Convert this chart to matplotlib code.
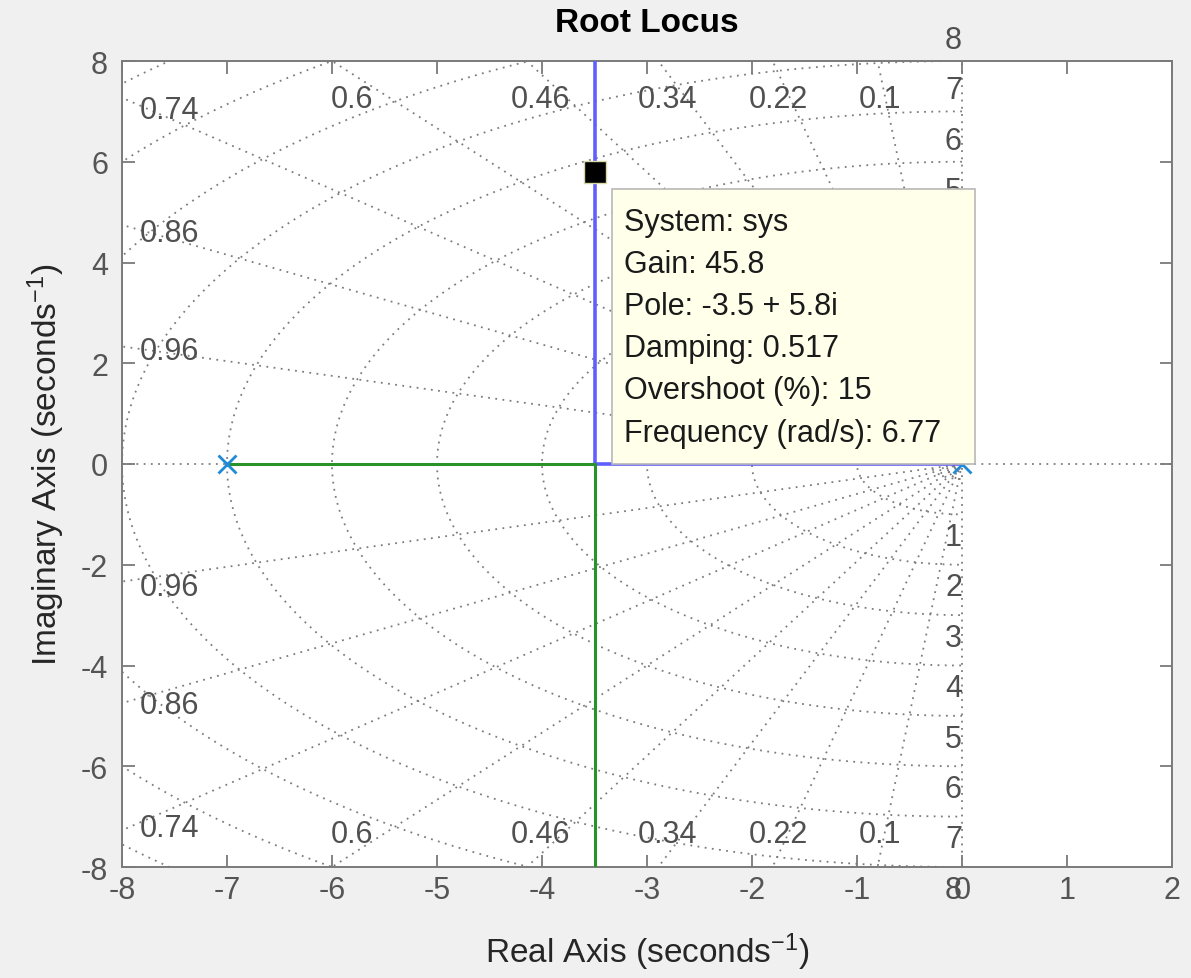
import numpy as np
import matplotlib
matplotlib.use("Agg")
import matplotlib.pyplot as plt
from matplotlib.patches import Rectangle

plt.rcParams['font.family'] = ['Liberation Sans', 'DejaVu Sans']
plt.rcParams['mathtext.fontset'] = 'custom'
plt.rcParams['mathtext.rm'] = 'Liberation Sans'
plt.rcParams['mathtext.it'] = 'Liberation Sans'
plt.rcParams['axes.unicode_minus'] = False

# ---- data ----
poles_re = [-7.0, 0.0]
poles_im = [0.0, 0.0]
branch1_re = [0.0, -3.5, -3.5]
branch1_im = [0.0, 0.0, 12.0]
branch2_re = [-7.0, -3.5, -3.5]
branch2_im = [0.0, 0.0, -12.0]
damping = [0.1, 0.22, 0.34, 0.46, 0.6, 0.74, 0.86, 0.96]
damping_labels = ['0.1', '0.22', '0.34', '0.46', '0.6', '0.74', '0.86', '0.96']
wn_circles = [0.1, 0.2, 0.3, 1, 2, 3, 4, 5, 6, 7, 8, 9, 10, 11]
wn_labels = [1, 2, 3, 4, 5, 6, 7, 8]
xticks = [-8, -7, -6, -5, -4, -3, -2, -1, 0, 1, 2]
yticks = [-8, -6, -4, -2, 0, 2, 4, 6, 8]
cursor_re, cursor_im = -3.5, 5.8
tip_lines = ['System: sys', 'Gain: 45.8', 'Pole: -3.5 + 5.8i',
             'Damping: 0.517', 'Overshoot (%): 15', 'Frequency (rad/s): 6.77']

W, H = 1191, 979
fig = plt.figure(figsize=(W / 100, H / 100), dpi=100, facecolor='#f0f0f0')
ax = fig.add_axes([122 / W, 1 - 868 / H, 1050 / W, 806 / H])
ax.set_facecolor('white')
ax.set_xlim(-8, 2)
ax.set_ylim(-8, 8)

gc = '#7c7c7c'
gls = (0, (1, 3))
glw = 1.3
# real and imaginary axis grid lines
ax.axhline(0, color=gc, ls=gls, lw=glw, zorder=1)
ax.axvline(0, color=gc, ls=gls, lw=glw, zorder=1)
# damping lines
for z in damping:
    th = np.arccos(z)
    L = 20
    xe = -L * np.cos(th)
    ye = L * np.sin(th)
    ax.plot([0, xe], [0, ye], color=gc, ls=gls, lw=glw, zorder=1)
    ax.plot([0, xe], [0, -ye], color=gc, ls=gls, lw=glw, zorder=1)
# frequency circles (left half plane)
t = np.linspace(np.pi / 2, 3 * np.pi / 2, 400)
for r in wn_circles:
    ax.plot(r * np.cos(t), r * np.sin(t), color=gc, ls=gls, lw=glw, zorder=1)

lab_fs = 22
lab_c = '#505050'
for z, s in zip(damping, damping_labels):
    tn = np.tan(np.arccos(z))
    if tn >= 1:
        xp = -7.75 / tn
        ax.text(xp, 7.25, s, ha='center', va='center', fontsize=lab_fs, color=lab_c, zorder=2)
        ax.text(xp, -7.35, s, ha='center', va='center', fontsize=lab_fs, color=lab_c, zorder=2)
    else:
        yp = 7.75 * tn
        ax.text(-7.55, yp - 0.02, s, ha='center', va='center', fontsize=lab_fs, color=lab_c, zorder=2)
        ax.text(-7.55, -yp - 0.18, s, ha='center', va='center', fontsize=lab_fs, color=lab_c, zorder=2)
for k in wn_labels:
    ax.text(0.0, k + 0.42, str(k), ha='right', va='center', fontsize=lab_fs, color=lab_c,
            zorder=2, clip_on=False)
    ax.text(0.0, -k - 0.45, str(k), ha='right', va='center', fontsize=lab_fs, color=lab_c,
            zorder=2, clip_on=False)

# locus branches
ax.plot(branch1_re, branch1_im, color='#5f5fff', lw=2.6, zorder=3, solid_capstyle='butt')
ax.plot(branch2_re, branch2_im, color='#2a922a', lw=2.2, zorder=3, solid_capstyle='butt')
ax.plot(poles_re, poles_im, ls='none', marker='x', ms=13, mew=2.0, color='#1f8ad8', zorder=4)

# data cursor
ax.plot([cursor_re], [cursor_im], ls='none', marker='s', ms=16, mfc='black',
        mec='#d8d8a8', mew=1.0, zorder=6)
ax.add_patch(Rectangle((-3.33, 0.0), 3.45, 5.46, facecolor='#ffffea', edgecolor='#b8b8b8',
                       lw=1.2, zorder=7))
for i, s in enumerate(tip_lines):
    ax.text(-3.22, 4.80 - i * 0.835, s, ha='left', va='center', fontsize=22,
            color='#1a1a1a', zorder=8)

# axes styling
for sp in ax.spines.values():
    sp.set_color('#7a7a7a')
    sp.set_linewidth(1.4)
ax.set_xticks(xticks)
ax.set_yticks(yticks)
ax.tick_params(direction='in', length=9, width=1.3, color='#7a7a7a',
               top=True, right=True, labelsize=22, labelcolor='#555555')
ax.tick_params(axis='x', pad=6)
ax.tick_params(axis='y', pad=10)

ax.set_xlabel('Real Axis (seconds$^{-1}$)', fontsize=24, color='#262626', labelpad=18)
ax.set_ylabel('Imaginary Axis (seconds$^{-1}$)', fontsize=24, color='#262626', labelpad=10)
fig.text(647 / W, 1 - 24 / H, 'Root Locus', ha='center', va='center', fontsize=24,
         fontweight='bold', color='black')

fig.savefig('out.png', dpi=100, facecolor=fig.get_facecolor())
